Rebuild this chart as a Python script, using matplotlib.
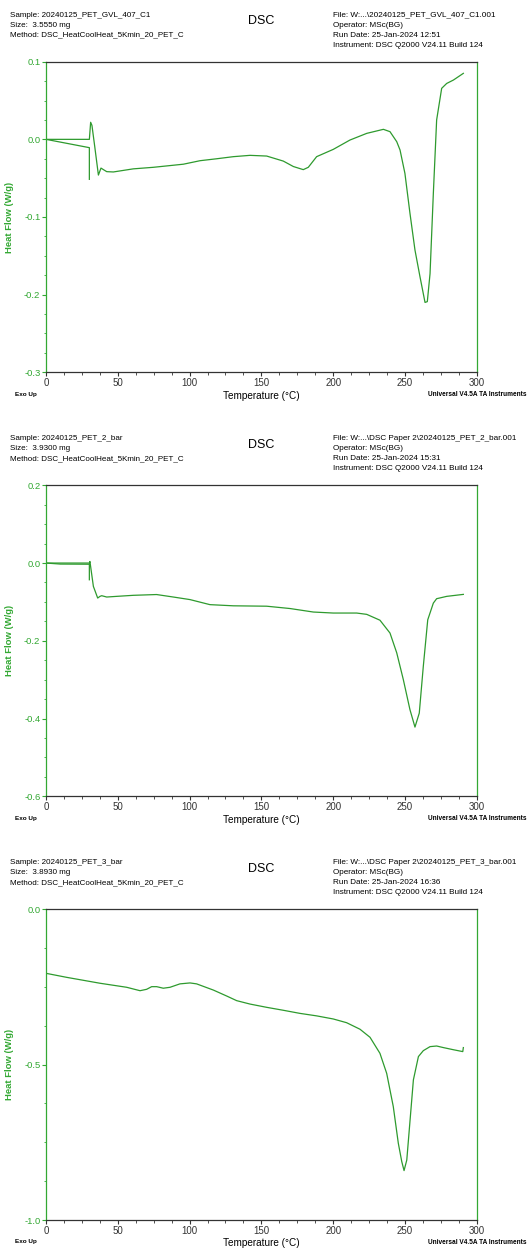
"""Three stacked DSC thermograms (TA Universal Analysis style)."""
import matplotlib
matplotlib.use("Agg")
import matplotlib.pyplot as plt
from matplotlib.ticker import MultipleLocator, AutoMinorLocator, FormatStrFormatter

plt.rcParams["font.family"] = ["Liberation Sans", "DejaVu Sans"]
plt.rcParams["axes.unicode_minus"] = False

W, H = 527, 1249
GREEN = "#2e9a2e"
GREEN_TXT = "#33a833"
DARK = "#333333"

# ---- run 1: 20240125_PET_GVL_407_C1 ----
t1_start = [0, 30.2, 30.2]
hf1_start = [0.0, -0.0107, -0.0515]
t1 = [0, 30.2, 31.1, 32.0, 34.0, 36.5, 38.3, 40.0, 42.3, 46.9, 60.8, 74.8, 95.7,
      107.3, 118.9, 130.5, 142.1, 153.7, 165.3, 172.3, 179.2, 182.7, 188.5, 200.1,
      211.7, 223.4, 235.0, 239.6, 244.3, 246.6, 250.0, 253.5, 257.0, 260.5, 264.0,
      265.6, 267.5, 269.8, 272.1, 275.6, 279.1, 283.8, 290.7]
hf1 = [0.0, 0.0, 0.022, 0.018, -0.010, -0.046, -0.037, -0.039, -0.0416, -0.042,
       -0.038, -0.036, -0.032, -0.0275, -0.025, -0.0223, -0.0206, -0.0215, -0.028,
       -0.035, -0.039, -0.036, -0.0223, -0.0129, -0.0009, 0.0077, 0.0129, 0.0099,
       -0.003, -0.0137, -0.0438, -0.095, -0.1425, -0.177, -0.210, -0.209, -0.173,
       -0.0695, 0.025, 0.0657, 0.072, 0.0764, 0.085]

# ---- run 2: 20240125_PET_2_bar ----
t2_start = [0, 10, 30.2, 30.2]
hf2_start = [0.0, -0.0026, -0.003, -0.043]
t2 = [0, 30.2, 30.6, 33.0, 36.0, 37.6, 38.8, 42.3, 49.2, 60.8, 77.0, 88.7, 100.3,
      114.2, 130.5, 153.7, 170.0, 186.2, 200.1, 216.4, 223.4, 232.6, 239.6, 244.3,
      248.9, 253.5, 257.0, 260.0, 262.8, 265.9, 269.8, 272.1, 279.1, 290.7]
hf2 = [0.0, 0.0, 0.004, -0.060, -0.090, -0.0857, -0.084, -0.0874, -0.0857, -0.083,
       -0.081, -0.0874, -0.094, -0.107, -0.110, -0.111, -0.117, -0.126, -0.1286,
       -0.1286, -0.132, -0.147, -0.180, -0.231, -0.300, -0.377, -0.422, -0.386,
       -0.266, -0.146, -0.103, -0.0917, -0.0857, -0.0806]

# ---- run 3: 20240125_PET_3_bar ----
t3 = [0, 14.4, 37.6, 56.2, 65.5, 70.1, 73.6, 77.1, 81.7, 86.4, 93.3, 100.3, 104.9,
      116.6, 125.8, 132.8, 142.1, 153.7, 165.3, 176.9, 188.5, 200.1, 209.4, 218.7,
      225.7, 232.6, 237.3, 241.9, 245.4, 247.8, 249.4, 251.3, 253.6, 255.9, 259.4,
      262.8, 267.5, 272.1, 276.7, 283.8, 290.3, 290.7]
hf3 = [-0.206, -0.219, -0.238, -0.251, -0.262, -0.2575, -0.249, -0.249, -0.254,
       -0.251, -0.240, -0.237, -0.240, -0.260, -0.279, -0.294, -0.305, -0.3155,
       -0.325, -0.335, -0.343, -0.353, -0.365, -0.386, -0.412, -0.4635, -0.528,
       -0.635, -0.753, -0.812, -0.841, -0.807, -0.678, -0.549, -0.474, -0.455,
       -0.442, -0.440, -0.445, -0.452, -0.458, -0.445]

headers = [
    (["Sample: 20240125_PET_GVL_407_C1", "Size:  3.5550 mg",
      "Method: DSC_HeatCoolHeat_5Kmin_20_PET_C"],
     ["File: W:...\\20240125_PET_GVL_407_C1.001", "Operator: MSc(BG)",
      "Run Date: 25-Jan-2024 12:51", "Instrument: DSC Q2000 V24.11 Build 124"]),
    (["Sample: 20240125_PET_2_bar", "Size:  3.9300 mg",
      "Method: DSC_HeatCoolHeat_5Kmin_20_PET_C"],
     ["File: W:...\\DSC Paper 2\\20240125_PET_2_bar.001", "Operator: MSc(BG)",
      "Run Date: 25-Jan-2024 15:31", "Instrument: DSC Q2000 V24.11 Build 124"]),
    (["Sample: 20240125_PET_3_bar", "Size:  3.8930 mg",
      "Method: DSC_HeatCoolHeat_5Kmin_20_PET_C"],
     ["File: W:...\\DSC Paper 2\\20240125_PET_3_bar.001", "Operator: MSc(BG)",
      "Run Date: 25-Jan-2024 16:36", "Instrument: DSC Q2000 V24.11 Build 124"]),
]

panels = [
    dict(top=61.7, bottom=372.3, ylim=(-0.3, 0.1), major=0.1,
         curves=[(t1_start, hf1_start), (t1, hf1)]),
    dict(top=485.3, bottom=796.3, ylim=(-0.6, 0.2), major=0.2,
         curves=[(t2_start, hf2_start), (t2, hf2)]),
    dict(top=909.3, bottom=1220.0, ylim=(-1.0, 0.0), major=0.5,
         curves=[(t3, hf3)]),
]

fig = plt.figure(figsize=(W / 100, H / 100), dpi=100)


def ftext(x, y, s, **kw):
    fig.text(x / W, 1 - y / H, s, **kw)


AX_L, AX_R = 46.0, 476.7
for p, (left_lines, right_lines) in zip(panels, headers):
    ax = fig.add_axes([AX_L / W, 1 - p["bottom"] / H,
                       (AX_R - AX_L) / W, (p["bottom"] - p["top"]) / H])
    for tx, hy in p["curves"]:
        ax.plot(tx, hy, color=GREEN, lw=0.9)
    ax.set_xlim(0, 300)
    ax.set_ylim(*p["ylim"])
    ax.xaxis.set_major_locator(MultipleLocator(50))
    ax.xaxis.set_minor_locator(AutoMinorLocator(4))
    ax.yaxis.set_major_locator(MultipleLocator(p["major"]))
    ax.yaxis.set_minor_locator(AutoMinorLocator(4))
    ax.yaxis.set_major_formatter(FormatStrFormatter("%.1f"))
    for side in ("top", "bottom"):
        ax.spines[side].set_color(DARK)
        ax.spines[side].set_linewidth(0.9)
    for side in ("left", "right"):
        ax.spines[side].set_color(GREEN_TXT)
        ax.spines[side].set_linewidth(0.9)
    ax.tick_params(axis="x", which="both", direction="out", colors=DARK,
                   labelsize=7, pad=1)
    ax.tick_params(axis="x", which="major", length=3)
    ax.tick_params(axis="x", which="minor", length=2.5)
    ax.tick_params(axis="y", which="both", direction="out", colors=GREEN_TXT,
                   labelsize=6.8, pad=1)
    ax.tick_params(axis="y", which="major", length=3)
    ax.tick_params(axis="y", which="minor", length=1.5)
    ax.set_xlabel("Temperature (°C)", fontsize=7.2, labelpad=2)
    ax.set_ylabel("Heat Flow (W/g)", fontsize=6.8, color=GREEN_TXT,
                  fontweight="bold")
    ax.yaxis.set_label_coords(-0.074, 0.5)

    top = p["top"]
    for i, s in enumerate(left_lines):
        ftext(10, top - 46.5 + 10 * i, s, fontsize=5.8, va="center", ha="left")
    for i, s in enumerate(right_lines):
        ftext(333, top - 46.5 + 10 * i, s, fontsize=5.85, va="center", ha="left")
    ftext(261, top - 40.5, "DSC", fontsize=9, va="center", ha="center")
    ftext(15, p["bottom"] + 22, "Exo Up", fontsize=4.6, fontweight="bold",
          va="center", ha="left")
    ftext(526, p["bottom"] + 22, "Universal V4.5A TA Instruments", fontsize=4.7,
          fontweight="bold", va="center", ha="right")

fig.savefig("out.png", dpi=100)
